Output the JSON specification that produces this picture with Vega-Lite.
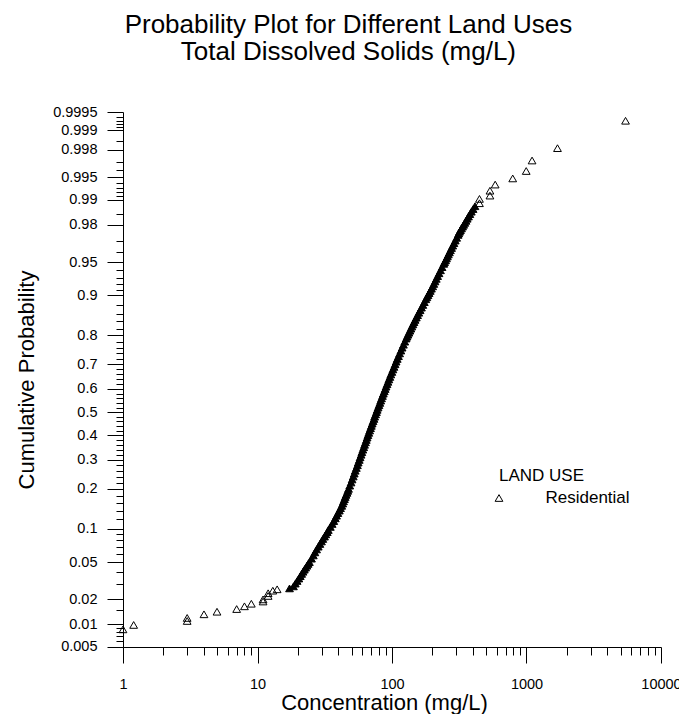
{
  "$schema": "https://vega.github.io/schema/vega-lite/v6.json",
  "width": 538,
  "height": 535,
  "autosize": {"type": "none"},
  "padding": {"left": 123, "top": 112, "right": 18, "bottom": 67},
  "background": "white",
  "title": {
    "text": ["Probability Plot for Different Land Uses", "Total Dissolved Solids (mg/L)"],
    "font": "Liberation Sans",
    "fontSize": 26,
    "fontWeight": "normal",
    "color": "black",
    "anchor": "middle",
    "frame": "bounds",
    "offset": 39,
    "lineHeight": 27
  },
  "data": {
    "values": [
      {"concentration": 1, "probability": 0.0086},
      {"concentration": 1.2, "probability": 0.0098},
      {"concentration": 3, "probability": 0.011},
      {"concentration": 3, "probability": 0.012},
      {"concentration": 4, "probability": 0.0133},
      {"concentration": 5, "probability": 0.0143},
      {"concentration": 7, "probability": 0.0154},
      {"concentration": 8, "probability": 0.0166},
      {"concentration": 9, "probability": 0.0178},
      {"concentration": 11, "probability": 0.0189},
      {"concentration": 11, "probability": 0.02},
      {"concentration": 12, "probability": 0.0219},
      {"concentration": 12, "probability": 0.0235},
      {"concentration": 13, "probability": 0.0251},
      {"concentration": 14, "probability": 0.026},
      {"concentration": 17.3, "probability": 0.0266},
      {"concentration": 18.5, "probability": 0.028},
      {"concentration": 19.1, "probability": 0.03},
      {"concentration": 19.7, "probability": 0.032},
      {"concentration": 20.3, "probability": 0.034},
      {"concentration": 20.8, "probability": 0.036},
      {"concentration": 21.3, "probability": 0.038},
      {"concentration": 21.8, "probability": 0.04},
      {"concentration": 22.3, "probability": 0.042},
      {"concentration": 22.8, "probability": 0.044},
      {"concentration": 23.3, "probability": 0.046},
      {"concentration": 23.8, "probability": 0.048},
      {"concentration": 24.3, "probability": 0.05},
      {"concentration": 25.2, "probability": 0.054},
      {"concentration": 26.0, "probability": 0.058},
      {"concentration": 26.7, "probability": 0.062},
      {"concentration": 27.5, "probability": 0.066},
      {"concentration": 28.3, "probability": 0.07},
      {"concentration": 29.1, "probability": 0.074},
      {"concentration": 29.9, "probability": 0.078},
      {"concentration": 30.6, "probability": 0.082},
      {"concentration": 31.5, "probability": 0.086},
      {"concentration": 32.2, "probability": 0.09},
      {"concentration": 33.0, "probability": 0.094},
      {"concentration": 33.6, "probability": 0.098},
      {"concentration": 34.8, "probability": 0.104},
      {"concentration": 35.9, "probability": 0.11},
      {"concentration": 36.9, "probability": 0.116},
      {"concentration": 37.9, "probability": 0.122},
      {"concentration": 38.7, "probability": 0.128},
      {"concentration": 39.6, "probability": 0.134},
      {"concentration": 40.6, "probability": 0.14},
      {"concentration": 41.4, "probability": 0.146},
      {"concentration": 42.3, "probability": 0.152},
      {"concentration": 43.0, "probability": 0.158},
      {"concentration": 43.6, "probability": 0.164},
      {"concentration": 44.3, "probability": 0.17},
      {"concentration": 44.9, "probability": 0.176},
      {"concentration": 45.5, "probability": 0.182},
      {"concentration": 46.3, "probability": 0.188},
      {"concentration": 46.9, "probability": 0.194},
      {"concentration": 47.5, "probability": 0.2},
      {"concentration": 48.5, "probability": 0.21},
      {"concentration": 49.6, "probability": 0.22},
      {"concentration": 50.5, "probability": 0.23},
      {"concentration": 51.5, "probability": 0.24},
      {"concentration": 52.4, "probability": 0.25},
      {"concentration": 53.3, "probability": 0.26},
      {"concentration": 54.3, "probability": 0.27},
      {"concentration": 55.3, "probability": 0.28},
      {"concentration": 56.1, "probability": 0.29},
      {"concentration": 57.1, "probability": 0.3},
      {"concentration": 57.9, "probability": 0.31},
      {"concentration": 58.9, "probability": 0.32},
      {"concentration": 59.7, "probability": 0.33},
      {"concentration": 60.7, "probability": 0.34},
      {"concentration": 61.6, "probability": 0.35},
      {"concentration": 62.5, "probability": 0.36},
      {"concentration": 63.5, "probability": 0.37},
      {"concentration": 64.4, "probability": 0.38},
      {"concentration": 65.3, "probability": 0.39},
      {"concentration": 66.2, "probability": 0.4},
      {"concentration": 67.2, "probability": 0.41},
      {"concentration": 68.2, "probability": 0.42},
      {"concentration": 69.2, "probability": 0.43},
      {"concentration": 70.2, "probability": 0.44},
      {"concentration": 71.2, "probability": 0.45},
      {"concentration": 72.3, "probability": 0.46},
      {"concentration": 73.4, "probability": 0.47},
      {"concentration": 74.3, "probability": 0.48},
      {"concentration": 75.5, "probability": 0.49},
      {"concentration": 76.6, "probability": 0.5},
      {"concentration": 77.6, "probability": 0.51},
      {"concentration": 78.8, "probability": 0.52},
      {"concentration": 80.0, "probability": 0.53},
      {"concentration": 81.2, "probability": 0.54},
      {"concentration": 82.4, "probability": 0.55},
      {"concentration": 83.6, "probability": 0.56},
      {"concentration": 84.9, "probability": 0.57},
      {"concentration": 86.2, "probability": 0.58},
      {"concentration": 87.6, "probability": 0.59},
      {"concentration": 89.0, "probability": 0.6},
      {"concentration": 90.3, "probability": 0.61},
      {"concentration": 91.8, "probability": 0.62},
      {"concentration": 93.3, "probability": 0.63},
      {"concentration": 94.8, "probability": 0.64},
      {"concentration": 96.4, "probability": 0.65},
      {"concentration": 98.0, "probability": 0.66},
      {"concentration": 99.8, "probability": 0.67},
      {"concentration": 101.6, "probability": 0.68},
      {"concentration": 103.5, "probability": 0.69},
      {"concentration": 105.4, "probability": 0.7},
      {"concentration": 107.3, "probability": 0.71},
      {"concentration": 109.4, "probability": 0.72},
      {"concentration": 111.7, "probability": 0.73},
      {"concentration": 113.9, "probability": 0.74},
      {"concentration": 116.4, "probability": 0.75},
      {"concentration": 118.9, "probability": 0.76},
      {"concentration": 121.6, "probability": 0.77},
      {"concentration": 124.4, "probability": 0.78},
      {"concentration": 127.4, "probability": 0.79},
      {"concentration": 129.4, "probability": 0.796},
      {"concentration": 131.5, "probability": 0.802},
      {"concentration": 133.6, "probability": 0.808},
      {"concentration": 135.9, "probability": 0.814},
      {"concentration": 138.2, "probability": 0.82},
      {"concentration": 140.6, "probability": 0.826},
      {"concentration": 143.1, "probability": 0.832},
      {"concentration": 145.7, "probability": 0.838},
      {"concentration": 148.6, "probability": 0.844},
      {"concentration": 151.6, "probability": 0.85},
      {"concentration": 154.9, "probability": 0.856},
      {"concentration": 158.2, "probability": 0.862},
      {"concentration": 161.8, "probability": 0.868},
      {"concentration": 165.6, "probability": 0.874},
      {"concentration": 169.6, "probability": 0.88},
      {"concentration": 173.9, "probability": 0.886},
      {"concentration": 178.4, "probability": 0.892},
      {"concentration": 181.6, "probability": 0.896},
      {"concentration": 185.2, "probability": 0.9},
      {"concentration": 188.7, "probability": 0.904},
      {"concentration": 192.5, "probability": 0.908},
      {"concentration": 196.4, "probability": 0.912},
      {"concentration": 200.6, "probability": 0.916},
      {"concentration": 204.5, "probability": 0.92},
      {"concentration": 208.9, "probability": 0.924},
      {"concentration": 213.4, "probability": 0.928},
      {"concentration": 218.3, "probability": 0.932},
      {"concentration": 223.6, "probability": 0.936},
      {"concentration": 229.4, "probability": 0.94},
      {"concentration": 235.5, "probability": 0.944},
      {"concentration": 242.6, "probability": 0.948},
      {"concentration": 246.0, "probability": 0.95},
      {"concentration": 250.3, "probability": 0.952},
      {"concentration": 254.1, "probability": 0.954},
      {"concentration": 258.2, "probability": 0.956},
      {"concentration": 262.4, "probability": 0.958},
      {"concentration": 267.1, "probability": 0.96},
      {"concentration": 271.8, "probability": 0.962},
      {"concentration": 277.1, "probability": 0.964},
      {"concentration": 282.8, "probability": 0.966},
      {"concentration": 288.7, "probability": 0.968},
      {"concentration": 295.4, "probability": 0.97},
      {"concentration": 302.4, "probability": 0.972},
      {"concentration": 310.2, "probability": 0.974},
      {"concentration": 313.3, "probability": 0.975},
      {"concentration": 318.0, "probability": 0.976},
      {"concentration": 322.9, "probability": 0.977},
      {"concentration": 328.6, "probability": 0.978},
      {"concentration": 334.7, "probability": 0.979},
      {"concentration": 340.9, "probability": 0.98},
      {"concentration": 347.6, "probability": 0.981},
      {"concentration": 354.8, "probability": 0.982},
      {"concentration": 362.3, "probability": 0.983},
      {"concentration": 370.4, "probability": 0.984},
      {"concentration": 379.3, "probability": 0.985},
      {"concentration": 388.8, "probability": 0.986},
      {"concentration": 400.6, "probability": 0.987},
      {"concentration": 413.8, "probability": 0.988},
      {"concentration": 447, "probability": 0.989},
      {"concentration": 447, "probability": 0.9903},
      {"concentration": 535, "probability": 0.9912},
      {"concentration": 535, "probability": 0.9924},
      {"concentration": 585, "probability": 0.9937},
      {"concentration": 790, "probability": 0.9948},
      {"concentration": 995, "probability": 0.9959},
      {"concentration": 1100, "probability": 0.9971},
      {"concentration": 1700, "probability": 0.9981},
      {"concentration": 5450, "probability": 0.9993}
    ]
  },
  "transform": [
    {"calculate": "quantileNormal(datum.probability)", "as": "normal_score"}
  ],
  "layer": [
    {
      "mark": {"type": "point", "shape": "triangle-up", "size": 60, "strokeWidth": 1, "stroke": "black", "opacity": 1},
      "encoding": {
        "x": {
          "field": "concentration",
          "type": "quantitative",
          "scale": {"type": "log", "domain": [1, 10000], "nice": false},
          "axis": {
            "orient": "bottom",
            "values": [1, 10, 100, 1000, 10000],
            "format": "d",
            "tickSize": 16,
            "labelPadding": 14,
            "labelFontSize": 14.5,
            "labelFlush": false,
            "labelOverlap": false,
            "title": "Concentration (mg/L)",
            "titleFontSize": 22,
            "titlePadding": 2,
            "titleX": 261
          }
        },
        "y": {
          "field": "normal_score",
          "type": "quantitative",
          "scale": {"domain": [-2.5759, 3.2906], "nice": false, "zero": false},
          "axis": {
            "orient": "left",
            "values": [-2.575829, -2.326348, -2.053749, -1.644854, -1.281552, -0.841621, -0.524401, -0.253347, 0, 0.253347, 0.524401, 0.841621, 1.281552, 1.644854, 2.053749, 2.326348, 2.575829, 2.878162, 3.090232, 3.290527],
            "labelExpr": "format(cumulativeNormal(datum.value), '.4~f')",
            "tickSize": 16,
            "labelPadding": 10,
            "labelFontSize": 14.5,
            "labelFlush": false,
            "labelOverlap": false,
            "title": "Cumulative Probability",
            "titleFontSize": 22,
            "titlePadding": 14
          }
        },
        "shape": {
          "datum": "Residential",
          "type": "nominal",
          "scale": {"range": ["triangle-up"]},
          "legend": {
            "title": "LAND USE",
            "orient": "none",
            "legendX": 376,
            "legendY": 356,
            "padding": 0,
            "titleFontSize": 17,
            "titleFontWeight": "normal",
            "titleColor": "black",
            "titlePadding": 4.5,
            "labelFontSize": 17,
            "labelColor": "black",
            "labelOffset": 38,
            "symbolOffset": -8.5,
            "symbolSize": 60,
            "symbolStrokeWidth": 1,
            "symbolStrokeColor": "black",
            "symbolFillColor": "transparent"
          }
        },
        "fill": {
          "condition": {"test": "datum.probability >= 0.0265 && datum.probability <= 0.9885", "value": "black"},
          "value": "transparent"
        }
      }
    },
    {
      "mark": {"type": "point", "opacity": 0},
      "encoding": {
        "x": {
          "field": "concentration",
          "type": "quantitative",
          "scale": {"type": "log", "domain": [1, 10000], "nice": false},
          "axis": {
            "orient": "bottom",
            "values": [2, 3, 4, 5, 6, 7, 8, 9, 20, 30, 40, 50, 60, 70, 80, 90, 200, 300, 400, 500, 600, 700, 800, 900, 2000, 3000, 4000, 5000, 6000, 7000, 8000, 9000],
            "tickSize": 8,
            "labels": false,
            "domain": false,
            "title": null
          }
        },
        "y": {
          "field": "normal_score",
          "type": "quantitative",
          "scale": {"domain": [-2.5759, 3.2906], "nice": false, "zero": false},
          "axis": {
            "orient": "left",
            "values": [-2.512144, -2.457263, -2.408916, -2.365618, -2.17009, -1.880794, -1.750686, -1.554774, -1.475791, -1.405072, -1.340755, -1.174987, -1.080319, -0.994458, -0.915365, -0.772193, -0.706303, -0.643345, -0.582842, -0.467699, -0.412463, -0.358459, -0.305481, -0.201893, -0.150969, -0.100434, -0.050154, 0.050154, 0.100434, 0.150969, 0.201893, 0.305481, 0.358459, 0.412463, 0.467699, 0.582842, 0.643345, 0.706303, 0.772193, 0.915365, 0.994458, 1.080319, 1.174987, 1.340755, 1.405072, 1.475791, 1.554774, 1.750686, 1.880794, 2.17009, 2.365618, 2.408916, 2.457263, 2.512144, 2.65207, 2.747781, 2.967738, 3.121389, 3.155906, 3.194651, 3.23888],
            "tickSize": 7,
            "labels": false,
            "domain": false,
            "title": null
          }
        }
      }
    }
  ],
  "resolve": {"axis": {"x": "independent", "y": "independent"}},
  "config": {
    "font": "Liberation Sans",
    "view": {"stroke": null},
    "axis": {
      "grid": false,
      "domainColor": "black",
      "domainWidth": 1,
      "tickColor": "black",
      "tickWidth": 1,
      "labelColor": "black",
      "labelFont": "Liberation Sans",
      "titleColor": "black",
      "titleFont": "Liberation Sans",
      "titleFontWeight": "normal"
    },
    "legend": {"labelFont": "Liberation Sans", "titleFont": "Liberation Sans"}
  }
}
